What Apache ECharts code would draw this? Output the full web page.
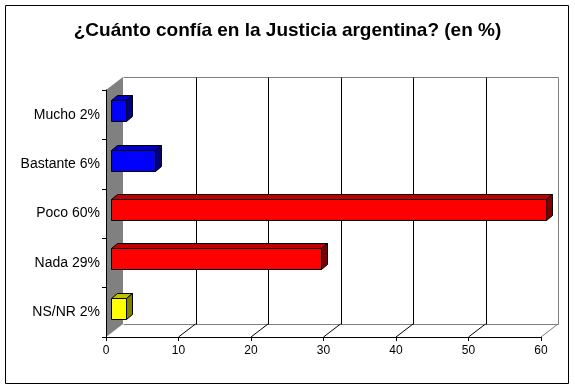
<!DOCTYPE html>
<html>
<head>
<meta charset="utf-8">
<script src="https://cdn.jsdelivr.net/npm/echarts@6/dist/echarts.min.js"></script>
<style>
html,body{margin:0;padding:0;background:#fff;}
#c{width:575px;height:389px;}
</style>
</head>
<body>
<div id="c"></div>
<script>
// ---- data ----
const titleText = '¿Cuánto confía en la Justicia argentina? (en %)';
const categories = ['Mucho 2%', 'Bastante 6%', 'Poco 60%', 'Nada 29%', 'NS/NR 2%'];
const values = [2, 6, 60, 29, 2];
const xTicks = [0, 10, 20, 30, 40, 50, 60];

// ---- styles ----
const faceColors = [
  ['#0000FF', '#0000C0', '#000080'],
  ['#0000FF', '#0000C0', '#000080'],
  ['#FF0000', '#C00000', '#800000'],
  ['#FF0000', '#C00000', '#800000'],
  ['#FFFF00', '#C0C000', '#808000']
];
const DX = 17, DY = -13;     // wall depth offset
const BX = 5, BY = -4;       // bar placement within depth
const BDX = 6, BDY = -5;     // bar depth
const FONT = 'Liberation Sans, Arial, sans-serif';

const chart = echarts.init(document.getElementById('c'), null, {renderer: 'canvas'});
const px = v => Math.round(v) + 0.5;

function frameRender(params, api) {
  const cs = params.coordSys;
  const L = cs.x, T = cs.y, R = cs.x + cs.width, B = cs.y + cs.height;
  const children = [];
  children.push({type: 'polygon', shape: {points: [[L, T], [L + DX, T + DY], [L + DX, B + DY], [L, B]]},
    style: {fill: '#808080', stroke: null}});
  children.push({type: 'line', shape: {x1: px(L + DX), y1: px(T + DY), x2: px(R + DX), y2: px(T + DY)},
    style: {stroke: '#808080', lineWidth: 1}});
  children.push({type: 'line', shape: {x1: px(L + DX), y1: px(B + DY), x2: px(R + DX), y2: px(B + DY)},
    style: {stroke: '#808080', lineWidth: 1}});
  children.push({type: 'line', shape: {x1: px(R + DX), y1: px(T + DY), x2: px(R + DX), y2: px(B + DY)},
    style: {stroke: '#808080', lineWidth: 1}});
  children.push({type: 'line', shape: {x1: R, y1: B, x2: R + DX, y2: B + DY},
    style: {stroke: '#808080', lineWidth: 1}});
  xTicks.slice(1, -1).forEach(t => {
    const x = api.coord([t, 0])[0];
    children.push({type: 'line', shape: {x1: px(x + DX), y1: px(T + DY), x2: px(x + DX), y2: px(B + DY)},
      style: {stroke: '#000', lineWidth: 1}});
    children.push({type: 'line', shape: {x1: x, y1: B, x2: x + DX, y2: B + DY},
      style: {stroke: '#000', lineWidth: 1}});
  });
  return {type: 'group', children: children};
}

function barRender(params, api) {
  const v = api.value(0), c = api.value(1);
  const s = api.coord([0, c]);
  const e = api.coord([v, c]);
  const h = Math.round(api.size([0, 1])[1] * 0.42);
  const x0 = px(s[0] + BX), x1 = px(e[0] + BX);
  const yc = s[1] + BY;
  const yt = px(yc - h / 2), yb = yt + h;
  const col = faceColors[params.dataIndex];
  const st = {stroke: '#000', lineWidth: 1, lineJoin: 'miter'};
  return {type: 'group', children: [
    {type: 'polygon', shape: {points: [[x0, yt], [x0 + BDX, yt + BDY], [x1 + BDX, yt + BDY], [x1, yt]]},
      style: Object.assign({fill: col[1]}, st)},
    {type: 'polygon', shape: {points: [[x1, yt], [x1 + BDX, yt + BDY], [x1 + BDX, yb + BDY], [x1, yb]]},
      style: Object.assign({fill: col[2]}, st)},
    {type: 'rect', shape: {x: x0, y: yt, width: x1 - x0, height: h},
      style: Object.assign({fill: col[0]}, st)}
  ]};
}

const option = {
  backgroundColor: '#fff',
  animation: false,
  title: {
    text: titleText, left: 'center', top: 16,
    textStyle: {fontFamily: FONT, fontSize: 19, fontWeight: 'bold', color: '#000'}
  },
  graphic: [{
    type: 'rect', shape: {x: 5.5, y: 5.5, width: 563, height: 378},
    style: {fill: null, stroke: '#000', lineWidth: 1}, silent: true, z: 100
  }],
  grid: {left: 106, top: 90, width: 435, height: 247, containLabel: false},
  xAxis: {
    type: 'value', min: 0, max: 60, interval: 10, z: 10,
    axisLine: {show: true, lineStyle: {color: '#000', width: 1}},
    axisTick: {show: true, length: 4, lineStyle: {color: '#000'}},
    splitLine: {show: false},
    axisLabel: {fontFamily: FONT, fontSize: 12, color: '#000', margin: 8}
  },
  yAxis: {
    type: 'category', data: categories, inverse: true, z: 10,
    axisLine: {show: true, lineStyle: {color: '#000', width: 1}},
    axisTick: {show: true, length: 4, alignWithLabel: false, lineStyle: {color: '#000'}},
    splitLine: {show: false},
    axisLabel: {fontFamily: FONT, fontSize: 14, color: '#000', margin: 6}
  },
  series: [
    {type: 'custom', renderItem: frameRender, data: [[0, 0]], z: 1, silent: true},
    {type: 'custom', renderItem: barRender, data: values.map((v, i) => [v, i]), z: 3, silent: true}
  ]
};
chart.setOption(option);
</script>
</body>
</html>
